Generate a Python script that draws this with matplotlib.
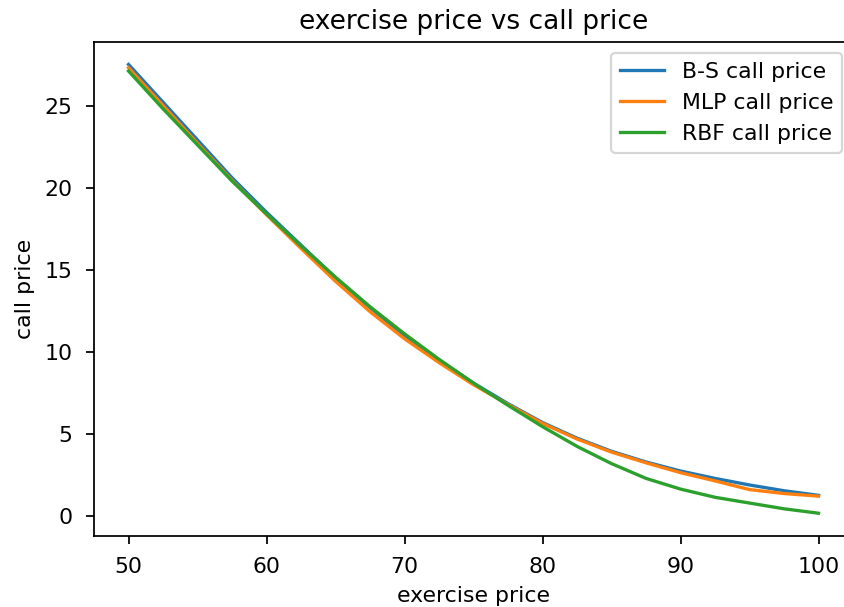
import matplotlib
matplotlib.use("Agg")
import matplotlib.pyplot as plt

# exercise prices and the three call price curves
strike = [50, 52.5, 55, 57.5, 60, 62.5, 65, 67.5, 70, 72.5, 75,
          77.5, 80, 82.5, 85, 87.5, 90, 92.5, 95, 97.5, 100]
bs_price = [27.5, 25.2, 22.9, 20.6, 18.5, 16.5, 14.5, 12.7, 11.0, 9.5, 8.1,
            6.85, 5.7, 4.75, 3.95, 3.3, 2.75, 2.3, 1.9, 1.55, 1.27]
mlp_price = [27.3, 25.0, 22.7, 20.45, 18.35, 16.3, 14.3, 12.45, 10.8, 9.35, 8.0,
             6.8, 5.65, 4.7, 3.9, 3.25, 2.65, 2.15, 1.62, 1.38, 1.22]
rbf_price = [27.1, 24.8, 22.6, 20.4, 18.4, 16.45, 14.55, 12.75, 11.1, 9.55, 8.1,
             6.75, 5.45, 4.25, 3.2, 2.3, 1.65, 1.15, 0.8, 0.45, 0.18]

k = 1.584  # scale of the default notebook style
plt.rcParams.update({
    'font.size': 10 * k,
    'axes.titlesize': 12 * k,
    'lines.linewidth': 1.5 * k,
    'axes.linewidth': 0.8 * k,
    'xtick.major.size': 3.5 * k,
    'ytick.major.size': 3.5 * k,
    'xtick.major.width': 0.8 * k,
    'ytick.major.width': 0.8 * k,
    'xtick.major.pad': 3.5 * k + 4.5,
    'ytick.major.pad': 3.5 * k + 4.5,
    'axes.labelpad': 4 * k,
    'axes.titlepad': 6 * k,
    'patch.linewidth': 1.0 * k,
})

fig = plt.figure(figsize=(8.44, 6.07), dpi=100)
ax = fig.add_axes([0.1114, 0.1175, 0.8993, 0.8133])

ax.plot(strike, bs_price, label='B-S call price')
ax.plot(strike, mlp_price, label='MLP call price')
ax.plot(strike, rbf_price, label='RBF call price')

ax.set_xlim(47.5, 102.5)
ax.set_title('exercise price vs call price')
ax.set_xlabel('exercise price')
ax.set_ylabel('call price')
ax.legend(loc='upper right')

fig.savefig('out.png', dpi=100)
